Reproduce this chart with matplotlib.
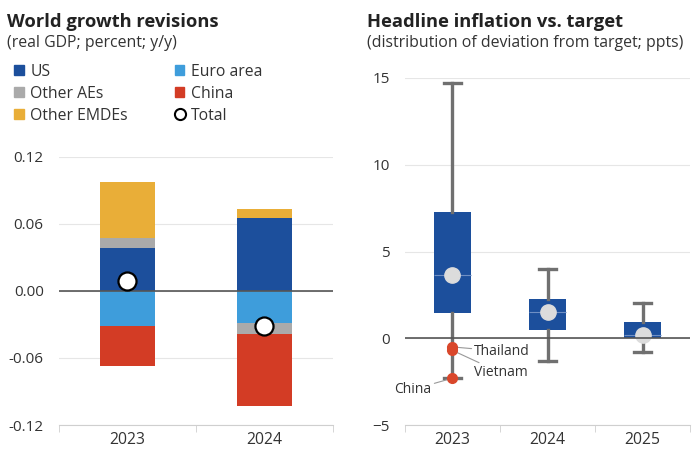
import matplotlib
matplotlib.use("Agg")
from matplotlib import pyplot as plt
from matplotlib.patches import Patch
from matplotlib.lines import Line2D

plt.rcParams["font.family"] = ["Open Sans", "DejaVu Sans"]

# World growth revisions, percentage points of real GDP growth
years = ["2023", "2024"]
us = [0.038, 0.065]
other_aes = [0.009, -0.010]
other_emdes = [0.050, 0.008]
euro_area = [-0.031, -0.029]
china = [-0.036, -0.064]
total = [0.009, -0.031]

# Headline inflation deviation from target, box statistics
box_years = ["2023", "2024", "2025"]
q1 = [1.45, 0.45, 0.0]
q3 = [7.25, 2.28, 0.93]
medians = [3.62, 1.54, 0.2]
means = [3.62, 1.54, 0.2]
whisk_lo = [-2.3, -1.33, -0.81]
whisk_hi = [14.7, 4.0, 2.02]

# Labelled countries below target in 2023
outlier_names = ["Thailand", "Vietnam", "China"]
outlier_vals = [-0.5, -0.7, -2.3]

C_US = "#1c4f9c"
C_EURO = "#3e9ddb"
C_AES = "#aaaaaa"
C_CHINA = "#d33c25"
C_EMDE = "#e9ae38"
TXT = "#333333"


def style_axis(ax):
    for s in ["top", "right", "left"]:
        ax.spines[s].set_visible(False)
    ax.spines["bottom"].set_color("#cfcfcf")
    ax.tick_params(axis="y", length=0, labelsize=11, colors=TXT, pad=11)
    ax.tick_params(axis="x", which="major", length=0, labelsize=11.3, colors=TXT, pad=5)
    ax.tick_params(axis="x", which="minor", length=5, color="#cfcfcf", direction="out")
    ax.grid(axis="y", color="#e6e6e6", lw=0.8)
    ax.set_axisbelow(True)


fig = plt.figure(figsize=(6.93, 4.55), dpi=100)

# left panel: stacked growth revisions
ax1 = fig.add_axes([0.0851, 0.0659, 0.3954, 0.5897])
x = range(len(years))
w = 0.4
pos_base = [0.0] * len(years)
neg_base = [0.0] * len(years)
for vals, col in [(us, C_US), (euro_area, C_EURO), (other_aes, C_AES),
                  (china, C_CHINA), (other_emdes, C_EMDE)]:
    bottoms = []
    for i, v in enumerate(vals):
        if v >= 0:
            bottoms.append(pos_base[i])
            pos_base[i] += v
        else:
            bottoms.append(neg_base[i])
            neg_base[i] += v
    ax1.bar(x, vals, bottom=bottoms, width=w, color=col, zorder=2)
ax1.axhline(0, color="#555555", lw=1.2, zorder=3)
ax1.plot(x, total, "o", ms=13, mfc="white", mec="black", mew=1.6, zorder=4)
ax1.set_xlim(-0.5, 1.5)
ax1.set_ylim(-0.12, 0.12)
ax1.set_yticks([-0.12, -0.06, 0.0, 0.06, 0.12])
ax1.set_yticklabels(["-0.12", "-0.06", "0.00", "0.06", "0.12"])
ax1.set_xticks(list(x))
ax1.set_xticklabels(years)
ax1.set_xticks([-0.5, 0.5, 1.5], minor=True)
style_axis(ax1)

# right panel: inflation distribution
ax2 = fig.add_axes([0.5844, 0.0659, 0.4113, 0.7627])
stats = []
for i, yr in enumerate(box_years):
    stats.append(dict(label=yr, q1=q1[i], q3=q3[i], med=medians[i], mean=means[i],
                      whislo=whisk_lo[i], whishi=whisk_hi[i], fliers=[]))
bx = list(range(len(box_years)))
ax2.bxp(stats, positions=bx, widths=0.39, patch_artist=True, showmeans=True,
        showfliers=False,
        boxprops=dict(facecolor=C_US, edgecolor=C_US, lw=0),
        medianprops=dict(color="#6f8fc4", lw=0.8),
        whiskerprops=dict(color="#707070", lw=2.4),
        capprops=dict(color="#707070", lw=2.4),
        capwidths=0.18,
        meanprops=dict(marker="o", markerfacecolor="#dcdcdc", markeredgecolor="#dcdcdc",
                       markersize=11),
        zorder=2)
ax2.axhline(0, color="#555555", lw=1.2, zorder=3)
ax2.plot([bx[0]] * len(outlier_vals), outlier_vals, "o", color="#d9472b", ms=7, zorder=5)
label_pos = [(0.23, -0.75), (0.23, -2.0), (-0.22, -2.95)]
for name, v, (tx, ty) in zip(outlier_names, outlier_vals, label_pos):
    ha = "left" if tx > 0 else "right"
    ax2.annotate(name, xy=(bx[0], v), xytext=(tx, ty), ha=ha, va="center",
                 fontsize=10, color=TXT,
                 arrowprops=dict(arrowstyle="-", color="#999999", lw=0.8,
                                 shrinkA=0, shrinkB=2))
ax2.set_xlim(-0.5, 2.5)
ax2.set_ylim(-5, 15)
ax2.set_yticks([-5, 0, 5, 10, 15])
ax2.set_xticks(bx)
ax2.set_xticklabels(box_years)
ax2.set_xticks([-0.5, 0.5, 1.5, 2.5], minor=True)
style_axis(ax2)

# titles
fig.text(0.010, 0.972, "World growth revisions", fontsize=13.2, fontweight="bold",
         color="#222222", va="top")
fig.text(0.010, 0.922, "(real GDP; percent; y/y)", fontsize=11.4, color=TXT, va="top")
fig.text(0.530, 0.972, "Headline inflation vs. target", fontsize=13.2, fontweight="bold",
         color="#222222", va="top")
fig.text(0.530, 0.922, "(distribution of deviation from target; ppts)", fontsize=11.4,
         color=TXT, va="top")

handles = [
    Patch(color=C_US, label="US"),
    Patch(color=C_AES, label="Other AEs"),
    Patch(color=C_EMDE, label="Other EMDEs"),
    Patch(color=C_EURO, label="Euro area"),
    Patch(color=C_CHINA, label="China"),
    Line2D([], [], marker="o", ls="", mfc="white", mec="black", mew=1.5, ms=8,
           label="Total"),
]
fig.legend(handles=handles, ncol=2, loc="upper left", bbox_to_anchor=(0.005, 0.884),
           frameon=False, fontsize=11.3, handlelength=0.6, handleheight=0.6,
           handletextpad=0.4, columnspacing=3.0, labelspacing=0.38,
           labelcolor=TXT, borderpad=0.2)

fig.savefig("out.png", dpi=100)
